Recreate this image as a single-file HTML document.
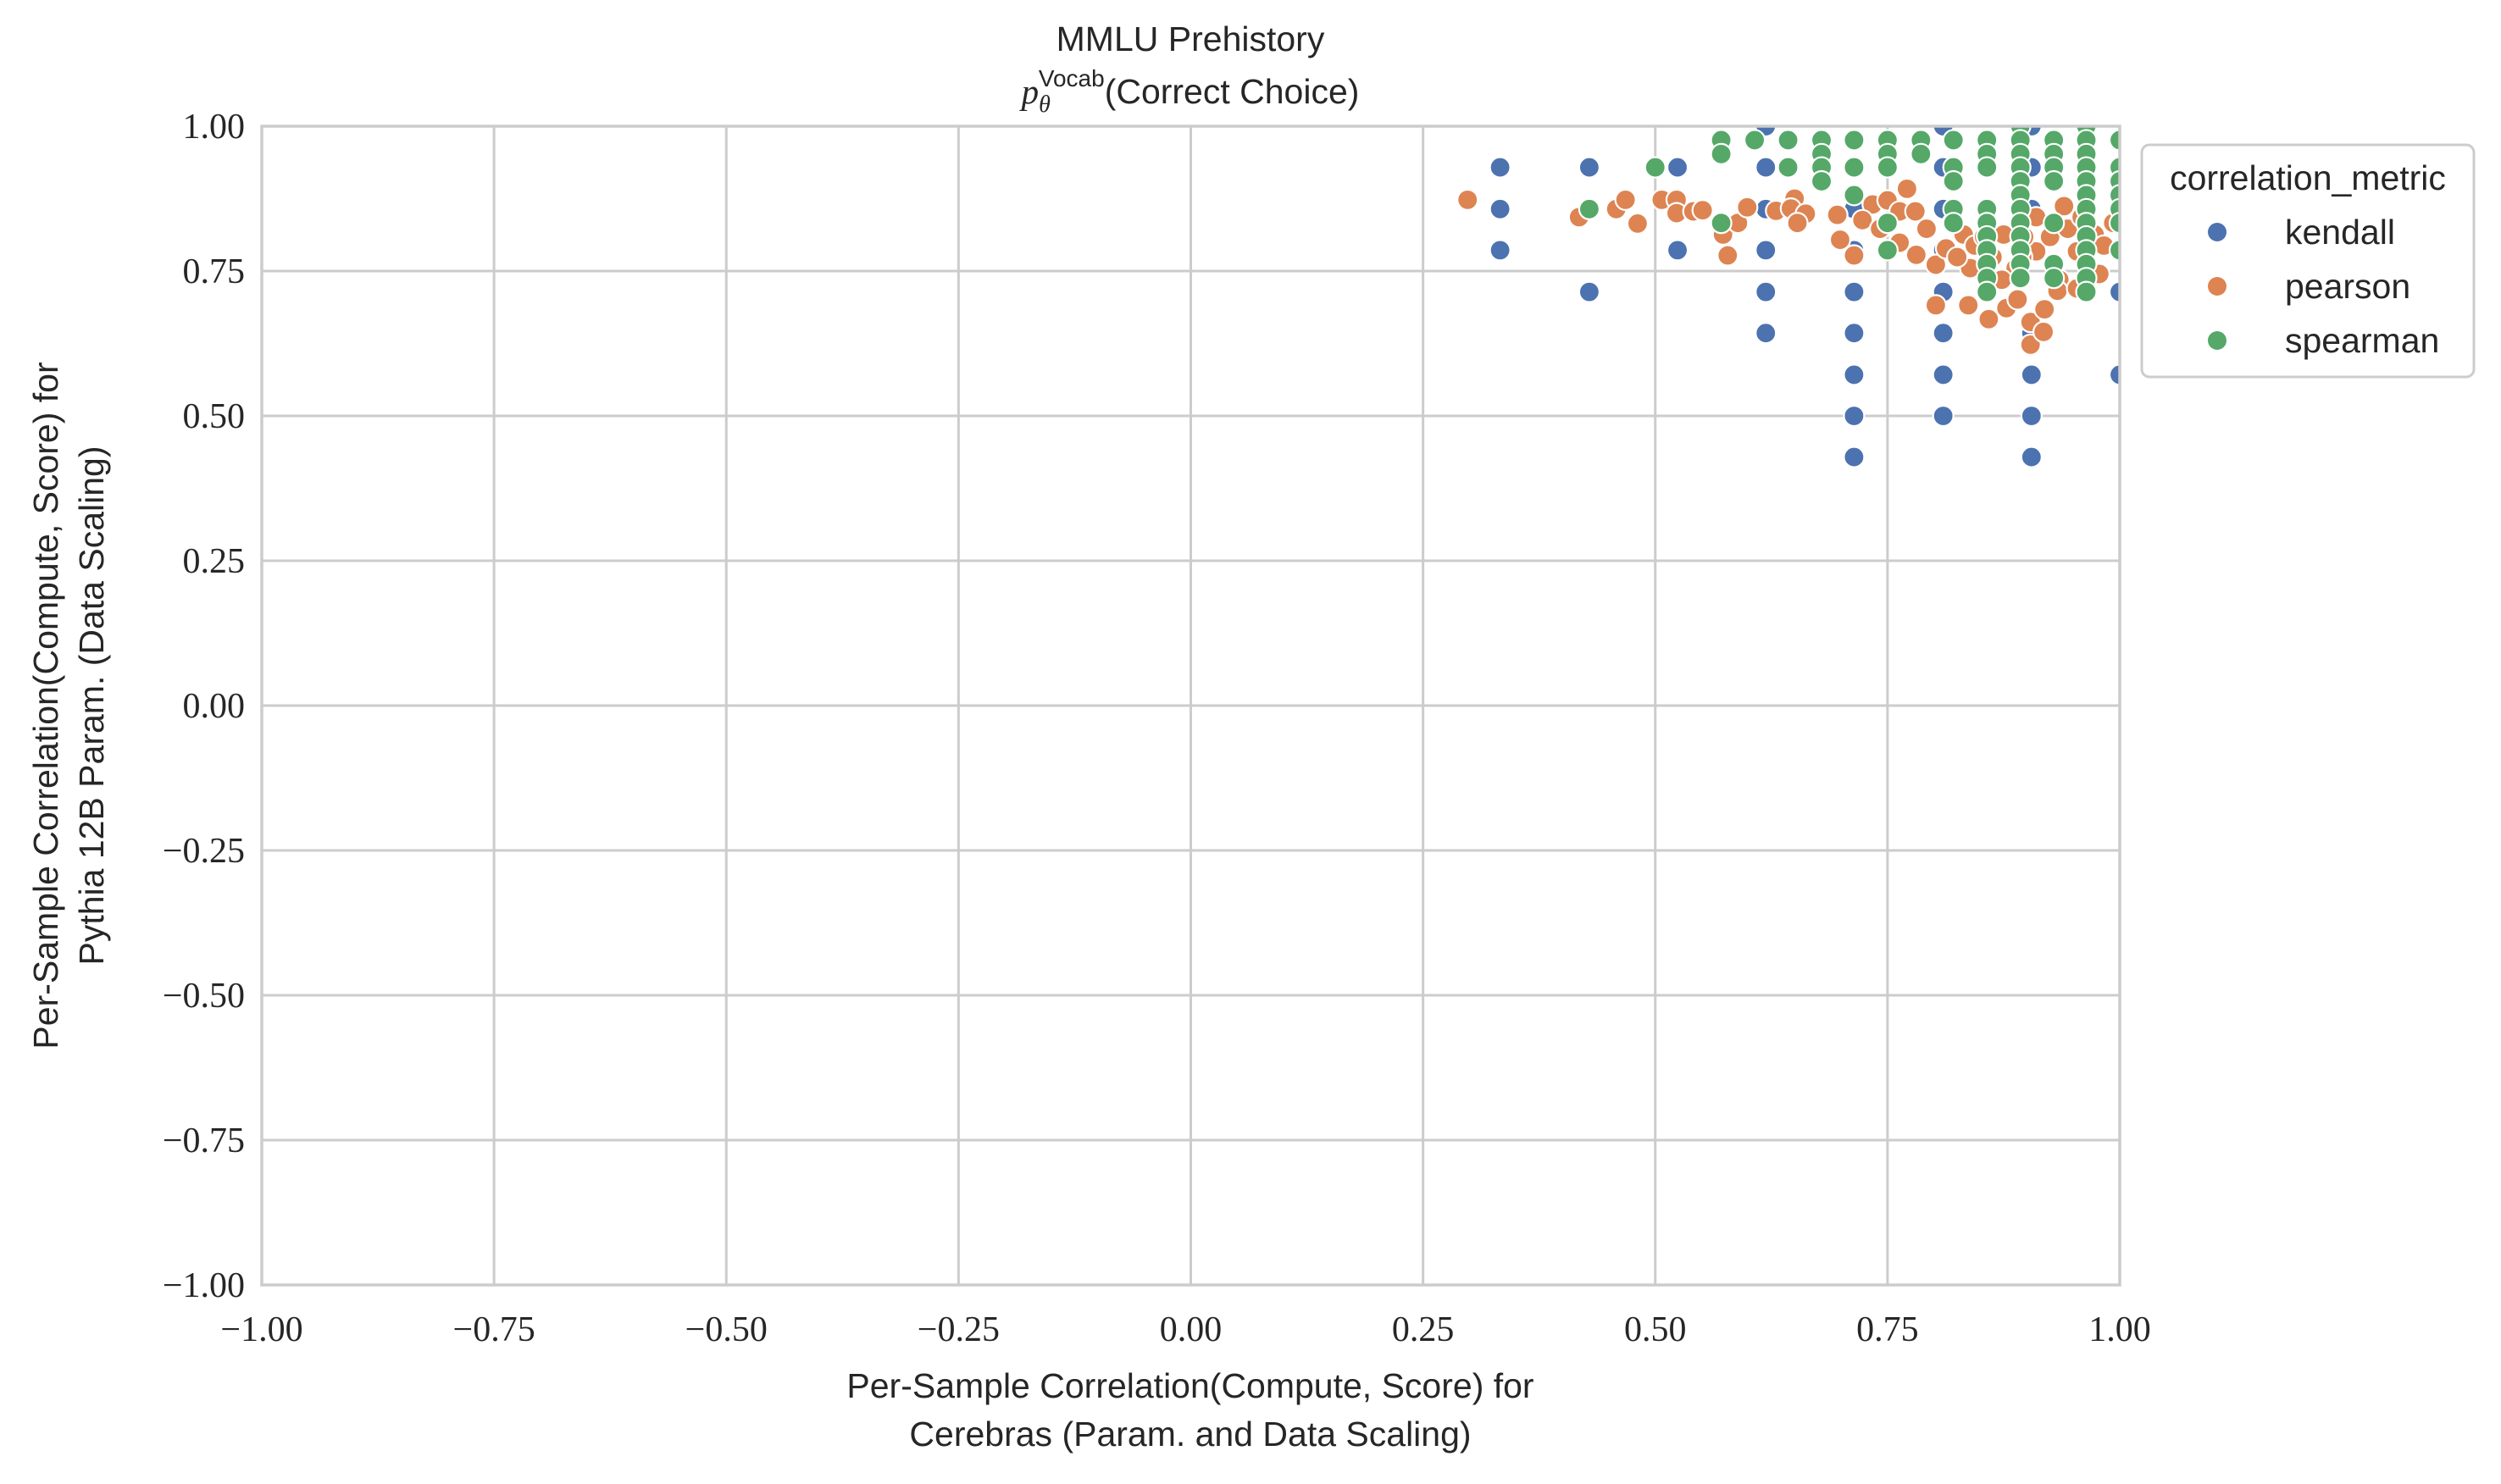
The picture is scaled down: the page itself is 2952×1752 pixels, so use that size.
<!DOCTYPE html>
<html><head><meta charset="utf-8"><style>
html,body{margin:0;padding:0;background:#fff;width:2952px;height:1752px;overflow:hidden}
svg{display:block}
.tick{font-family:"Liberation Serif",serif;font-size:42px;fill:#262626}
.lab{font-family:"Liberation Sans",sans-serif;font-size:41px;fill:#262626}
</style></head><body>
<svg id="chart" width="2952" height="1752" viewBox="0 0 2952 1752">
<g id="grid"></g>
<g id="pts"></g>
<g id="axes"></g>
<text class="lab" x="1405" y="60" text-anchor="middle">MMLU Prehistory</text>
<text class="lab" x="1405" y="122" text-anchor="middle"><tspan font-family="Liberation Serif,serif" font-style="italic">p</tspan><tspan font-family="Liberation Serif,serif" font-style="italic" font-size="28" dy="10">θ</tspan><tspan font-size="28" dy="-30" dx="-14">Vocab</tspan><tspan dy="20">(Correct Choice)</tspan></text>
<text class="lab" x="1405" y="1650" text-anchor="middle">Per-Sample Correlation(Compute, Score) for</text>
<text class="lab" x="1405" y="1707" text-anchor="middle">Cerebras (Param. and Data Scaling)</text>
<g transform="translate(68,833) rotate(-90)">
<text class="lab" x="0" y="0" text-anchor="middle">Per-Sample Correlation(Compute, Score) for</text>
<text class="lab" x="0" y="54" text-anchor="middle">Pythia 12B Param. (Data Scaling)</text>
</g>
<g>
<rect x="2528" y="171" width="392" height="274" rx="9" fill="#fff" stroke="#cccccc" stroke-width="3"/>
<text class="lab" x="2724" y="224" text-anchor="middle" font-size="43">correlation_metric</text>
<g><circle cx="2617" cy="274" r="11" fill="#4c72b0"/><text class="lab" x="2697" y="288">kendall</text></g>
<g><circle cx="2617" cy="338" r="11" fill="#dd8452"/><text class="lab" x="2697" y="352">pearson</text></g>
<g><circle cx="2617" cy="402" r="11" fill="#55a868"/><text class="lab" x="2697" y="416">spearman</text></g>
</g>
</svg>
<script>
const ticks = [-1,-0.75,-0.5,-0.25,0,0.25,0.5,0.75,1];
const tickLabels = ["\u22121.00","\u22120.75","\u22120.50","\u22120.25","0.00","0.25","0.50","0.75","1.00"];
const kendallX = [0.333,0.333,0.333,0.429,0.429,0.524,0.524,0.619,0.619,0.619,0.619,0.619,0.619,0.714,0.714,0.714,0.714,0.714,0.714,0.714,0.81,0.81,0.81,0.81,0.81,0.81,0.81,0.81,0.905,0.905,0.905,0.905,0.905,0.905,0.905,1.0,1.0,1.0];
const kendallY = [0.929,0.857,0.786,0.929,0.714,0.929,0.786,1.0,0.929,0.857,0.786,0.714,0.643,0.857,0.786,0.714,0.643,0.571,0.5,0.429,1.0,0.929,0.857,0.786,0.714,0.643,0.571,0.5,1.0,0.929,0.857,0.643,0.571,0.5,0.429,0.929,0.714,0.571];
const pearsonX = [0.298,0.418,0.458,0.468,0.481,0.507,0.523,0.523,0.541,0.551,0.573,0.578,0.589,0.599,0.63,0.65,0.646,0.662,0.653,0.696,0.713,0.699,0.714,0.734,0.75,0.771,0.763,0.78,0.723,0.742,0.763,0.781,0.792,0.802,0.802,0.813,0.82,0.837,0.832,0.844,0.859,0.863,0.875,0.878,0.89,0.888,0.904,0.904,0.918,0.919,0.91,0.925,0.935,0.94,0.944,0.954,0.973,0.978,0.983,0.933,0.873,0.897,0.854,0.959,0.895,0.91,0.993,0.839,0.825,0.954];
const pearsonY = [0.873,0.843,0.857,0.873,0.832,0.873,0.873,0.85,0.853,0.855,0.813,0.777,0.833,0.86,0.854,0.875,0.858,0.849,0.833,0.847,0.882,0.804,0.777,0.865,0.872,0.892,0.853,0.853,0.838,0.823,0.799,0.778,0.823,0.761,0.691,0.789,0.833,0.691,0.813,0.794,0.667,0.774,0.813,0.686,0.701,0.755,0.662,0.623,0.645,0.684,0.784,0.809,0.735,0.862,0.823,0.784,0.813,0.745,0.794,0.716,0.735,0.809,0.809,0.843,0.774,0.843,0.833,0.755,0.774,0.72];
const spearmanX = [0.429,0.5,0.571,0.571,0.571,0.607,0.643,0.643,0.679,0.679,0.679,0.679,0.714,0.714,0.714,0.75,0.75,0.75,0.75,0.75,0.786,0.786,0.821,0.821,0.821,0.821,0.821,0.857,0.857,0.857,0.857,0.857,0.857,0.857,0.857,0.857,0.857,0.893,0.893,0.893,0.893,0.893,0.893,0.893,0.893,0.893,0.893,0.893,0.893,0.929,0.929,0.929,0.929,0.929,0.929,0.929,0.964,0.964,0.964,0.964,0.964,0.964,0.964,0.964,0.964,0.964,0.964,0.964,0.964,1.0,1.0,1.0,1.0,1.0,1.0,1.0];
const spearmanY = [0.857,0.929,0.976,0.952,0.833,0.976,0.976,0.929,0.976,0.952,0.929,0.905,0.976,0.929,0.881,0.976,0.952,0.929,0.833,0.786,0.976,0.952,0.976,0.929,0.905,0.857,0.833,0.976,0.952,0.929,0.857,0.833,0.81,0.786,0.762,0.738,0.714,1.0,0.976,0.952,0.929,0.905,0.881,0.857,0.833,0.81,0.786,0.762,0.738,0.976,0.952,0.929,0.905,0.833,0.762,0.738,1.0,0.976,0.952,0.929,0.905,0.881,0.857,0.833,0.81,0.786,0.762,0.738,0.714,0.976,0.929,0.905,0.881,0.857,0.833,0.786];

const L=309,R=2502,T=149,B=1517;
const NS="http://www.w3.org/2000/svg";
function sx(v){return L+(v+1)/2*(R-L);}
function sy(v){return B-(v+1)/2*(B-T);}
function mk(tag,attrs,parent){const e=document.createElementNS(NS,tag);for(const k in attrs)e.setAttribute(k,attrs[k]);parent.appendChild(e);return e;}
const grid=document.getElementById('grid'), axes=document.getElementById('axes'), pts=document.getElementById('pts');
ticks.forEach((t,i)=>{
  const gx=mk('line',{x1:sx(t),x2:sx(t),y1:T,y2:B,stroke:'#cccccc','stroke-width':3},grid);
  
  
  const gy=mk('line',{x1:L,x2:R,y1:sy(t),y2:sy(t),stroke:'#cccccc','stroke-width':3},grid);
  
  
  const tx=mk('text',{x:sx(t),y:B+66,'text-anchor':'middle',class:'tick'},axes);
  tx.textContent=tickLabels[i];
  
  
  const ty=mk('text',{x:L-20,y:sy(t)+14,'text-anchor':'end',class:'tick'},axes);
  ty.textContent=tickLabels[i];
  
  
});
const frame=mk('rect',{x:L,y:T,width:R-L,height:B-T,fill:'none',stroke:'#cccccc','stroke-width':3.5},axes);


const clip=mk('clipPath',{id:'pc'},document.getElementById('chart'));
mk('rect',{x:L,y:T,width:R-L,height:B-T},clip);
pts.setAttribute('clip-path','url(#pc)');
function series(xs,ys,color,name){
  xs.forEach((x,i)=>{
    const c=mk('circle',{cx:sx(x),cy:sy(ys[i]),r:12,fill:color,stroke:'#fff','stroke-width':2.2},pts);
    
    
  });
}
series(kendallX,kendallY,'#4c72b0','kendall');
series(pearsonX,pearsonY,'#dd8452','pearson');
series(spearmanX,spearmanY,'#55a868','spearman');
</script>
</body></html>
